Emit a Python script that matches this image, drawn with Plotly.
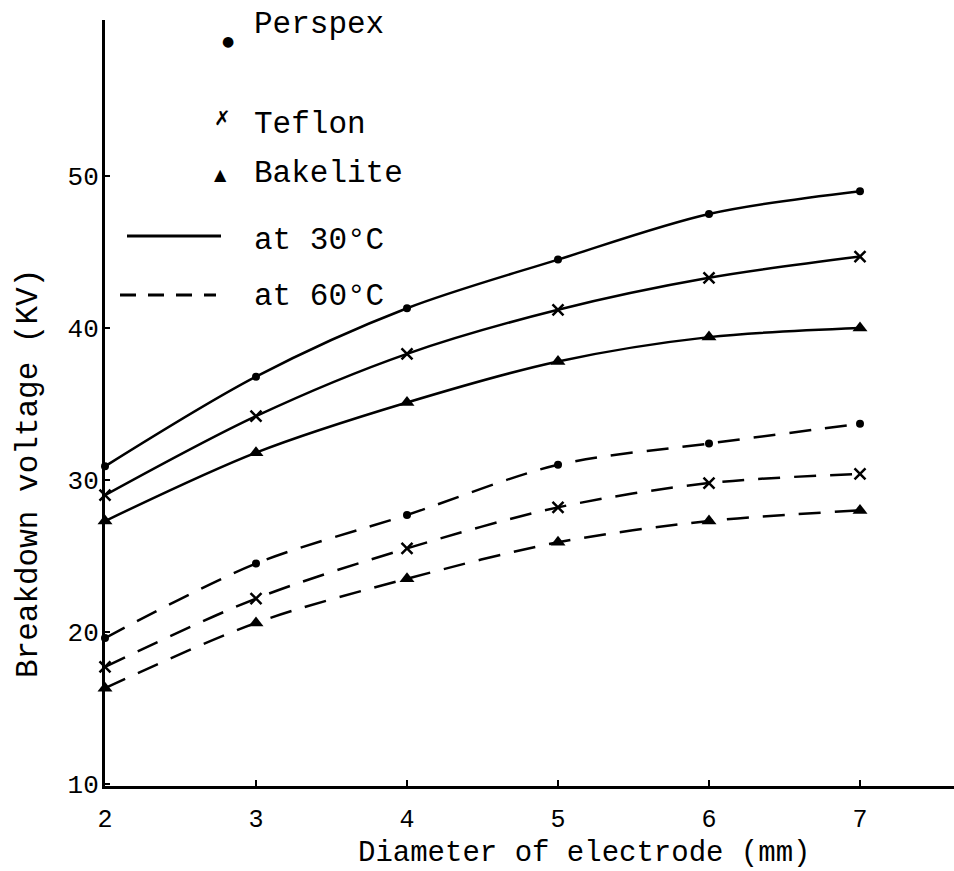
import plotly.graph_objects as go

# ---- data ----
diameter = [2, 3, 4, 5, 6, 7]
perspex_30 = [30.9, 36.8, 41.3, 44.5, 47.5, 49.0]
teflon_30 = [29.0, 34.2, 38.3, 41.2, 43.3, 44.7]
bakelite_30 = [27.3, 31.8, 35.1, 37.8, 39.4, 40.0]
perspex_60 = [19.6, 24.5, 27.7, 31.0, 32.4, 33.7]
teflon_60 = [17.7, 22.2, 25.5, 28.2, 29.8, 30.4]
bakelite_60 = [16.3, 20.6, 23.5, 25.9, 27.3, 28.0]

x_ticks = [2, 3, 4, 5, 6, 7]
y_ticks = [10, 20, 30, 40, 50]

FONT = "Liberation Mono, Courier New, monospace"

# plot-area geometry (pixels)
W, H = 954, 871
L, T, R, B = 105, 20, 954, 786
pw, ph = R - L, B - T


def px(xp):
    return (xp - L) / pw


def py(yp):
    return (B - yp) / ph


markers = {
    "Perspex": dict(symbol="circle", size=8, color="black"),
    "Teflon": dict(symbol="x-thin", size=11, color="black",
                   line=dict(color="black", width=2.5)),
    "Bakelite": dict(symbol="triangle-up", size=13, color="black"),
}

series = [
    ("Perspex", perspex_30, "solid"),
    ("Teflon", teflon_30, "solid"),
    ("Bakelite", bakelite_30, "solid"),
    ("Perspex", perspex_60, "22px,14px"),
    ("Teflon", teflon_60, "22px,14px"),
    ("Bakelite", bakelite_60, "22px,14px"),
]

fig = go.Figure()
for name, vals, dash in series:
    fig.add_trace(go.Scatter(
        x=diameter, y=vals, mode="lines+markers", name=name,
        line=dict(color="black", width=2.5, dash=dash, shape="spline", smoothing=0.9),
        marker=markers[name], showlegend=False, cliponaxis=False,
    ))

fig.update_layout(
    width=W, height=H,
    margin=dict(l=L, r=W - R, t=T, b=H - B),
    plot_bgcolor="white", paper_bgcolor="white",
    font=dict(family=FONT, color="black"),
    showlegend=False,
)
fig.update_xaxes(
    range=[2, 2 + pw / 151.0], tickvals=x_ticks, ticktext=[str(v) for v in x_ticks],
    showline=True, linecolor="black", linewidth=3, showgrid=False, zeroline=False,
    ticks="inside", ticklen=6, tickwidth=2, tickcolor="black",
    tickfont=dict(family=FONT, size=25), ticklabelstandoff=8,
)
fig.update_yaxes(
    range=[10 - 2 / 15.2, 10 + (ph - 2) / 15.2], tickvals=y_ticks, ticktext=[str(v) for v in y_ticks],
    showline=True, linecolor="black", linewidth=3, showgrid=False, zeroline=False,
    ticks="inside", ticklen=5, tickwidth=2, tickcolor="black",
    tickfont=dict(family=FONT, size=26), ticklabelstandoff=-2,
)

ann = []
# axis titles
ann.append(dict(text="Diameter of electrode (mm)", x=px(584), y=py(853), xref="paper", yref="paper",
                showarrow=False, font=dict(family=FONT, size=29), xanchor="center", yanchor="middle"))
ann.append(dict(text="Breakdown voltage (KV)", x=px(28), y=py(474), xref="paper", yref="paper",
                textangle=-90, showarrow=False, font=dict(family=FONT, size=31),
                xanchor="center", yanchor="middle"))

# custom legend
legend_items = [
    ("Perspex", "●", 228, 41, 25, 14),
    ("Teflon", "✗", 222, 118, 125, 20),
    ("Bakelite", "▲", 220, 175, 173, 16),
]
for label, sym, mx, my, ty, ms in legend_items:
    ann.append(dict(text=sym, x=px(mx), y=py(my), xref="paper", yref="paper", showarrow=False,
                    font=dict(family="DejaVu Sans", size=ms, color="black"),
                    xanchor="center", yanchor="middle"))
    ann.append(dict(text=label, x=px(252), y=py(ty), xref="paper", yref="paper", showarrow=False,
                    font=dict(family=FONT, size=31), xanchor="left", yanchor="middle"))

ann.append(dict(text="at 30°C", x=px(252), y=py(240), xref="paper", yref="paper", showarrow=False,
                font=dict(family=FONT, size=31), xanchor="left", yanchor="middle"))
ann.append(dict(text="at 60°C", x=px(252), y=py(296), xref="paper", yref="paper", showarrow=False,
                font=dict(family=FONT, size=31), xanchor="left", yanchor="middle"))

shapes = [
    dict(type="line", xref="paper", yref="paper", x0=px(127), x1=px(221), y0=py(236), y1=py(236),
         line=dict(color="black", width=3)),
    dict(type="line", xref="paper", yref="paper", x0=px(120), x1=px(216), y0=py(295), y1=py(295),
         line=dict(color="black", width=3, dash="16px,12px")),
]
fig.update_layout(annotations=ann, shapes=shapes)

fig.write_html("out.html")
